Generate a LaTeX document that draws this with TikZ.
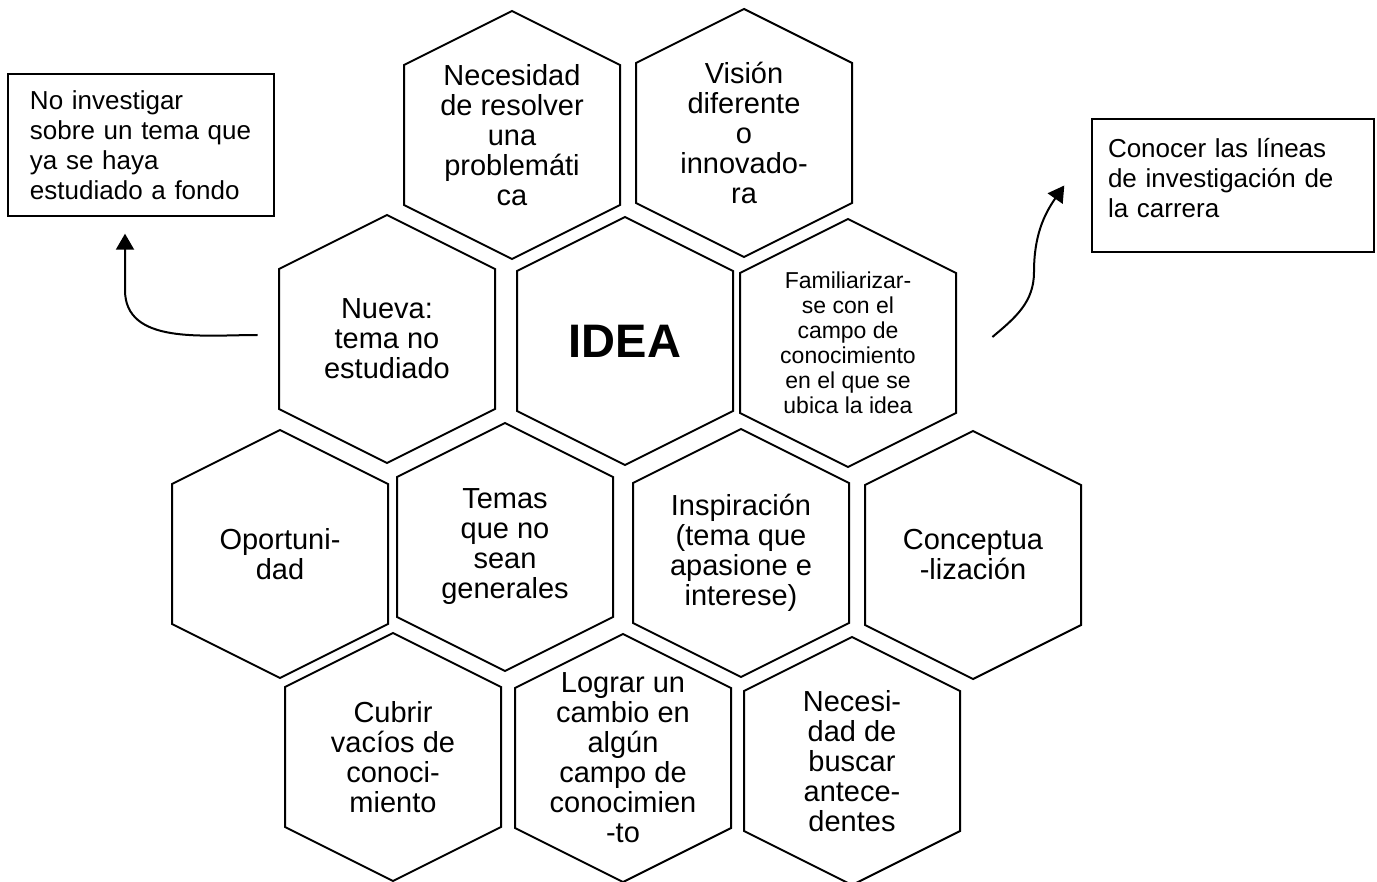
\documentclass[tikz,border=0pt]{standalone}
\usepackage{fontspec}
\setmainfont{Liberation Sans}
\usetikzlibrary{arrows.meta}

\begin{document}
\begin{tikzpicture}
[
    x=0.5pt, y=-0.5pt,
    celda/.style={minimum width=108pt,minimum height=124pt,inner sep=0pt,align=center,font=\fontsize{14.5}{15}\selectfont},
    centro/.style={celda,font=\fontsize{23.5}{28}\selectfont\bfseries},
    chica/.style={celda,font=\fontsize{11.5}{12.5}\selectfont},
    hexa/.style={draw,line width=1pt,line join=miter},
    caja/.style={draw,line width=0.7pt,align=left,font=\fontsize{13}{15}\selectfont},
    flecha/.style={line width=1pt,-{Triangle[length=8pt,width=9pt]}}
  ]
  \useasboundingbox (0,0) rectangle (1377,882);

  \foreach \nm/\px/\py/\tipo/\txt in {nec/512/135/celda/{Necesidad\\de resolver\\una\\problemáti\\ca},
      vis/744/133/celda/{Visión\\diferente\\o\\innovado-\\ra},
      nueva/387/339/celda/{Nueva:\\tema no\\estudiado},
      idea/625/341/centro/{IDEA},
      fam/848/343/chica/{Familiarizar-\\se con el\\campo de\\conocimiento\\en el que se\\ubica la idea},
      opor/280/554/celda/{Oportuni-\\dad},
      temas/505/547/celda/{Temas\\que no\\sean\\generales},
      insp/741/553/celda/{Inspiración\\(tema que\\apasione e\\interese)},
      conc/973/555/celda/{Conceptua\\-lización},
      cubrir/393/757/celda/{Cubrir\\vacíos de\\conoci-\\miento},
      lograr/623/758/celda/{Lograr un\\cambio en\\algún\\campo de\\conocimien\\-to},
      necesi/852/761/celda/{Necesi-\\dad de\\buscar\\antece-\\dentes}}{
    \node[\tipo] (\nm) at (\px,\py) {\txt};
    \draw[hexa] (\px,\py-124) -- (\px+108,\py-70) -- (\px+108,\py+70) -- (\px,\py+124)
      -- (\px-108,\py+70) -- (\px-108,\py-70) -- cycle;
  }

  \node[caja,inner xsep=11pt,text width=111pt,minimum height=71pt] (nobox) at (141,145)
    {No investigar\\sobre un tema que\\ya se haya\\estudiado a fondo};
  \node[caja,inner xsep=8pt,text width=125pt,minimum height=66.5pt] (conocer) at (1233,185.5)
    {Conocer las líneas\\de investigación de\\la carrera\\[-7pt]\mbox{}};

  \coordinate (codoA) at (125,290);
  \coordinate (codoB) at (1034,272);
  \draw[flecha] ([xshift=-10.5pt,yshift=2pt]nueva.west) to[out=180,in=-90] (codoA)
    -- ([xshift=-8pt,yshift=-8.5pt]nobox.south);
  \draw[flecha] ([xshift=18pt,yshift=3pt]fam.east) to[out=40,in=-90] (codoB)
    to[out=90,in=235] ([xshift=-13.5pt]conocer.west);
\end{tikzpicture}
\end{document}
